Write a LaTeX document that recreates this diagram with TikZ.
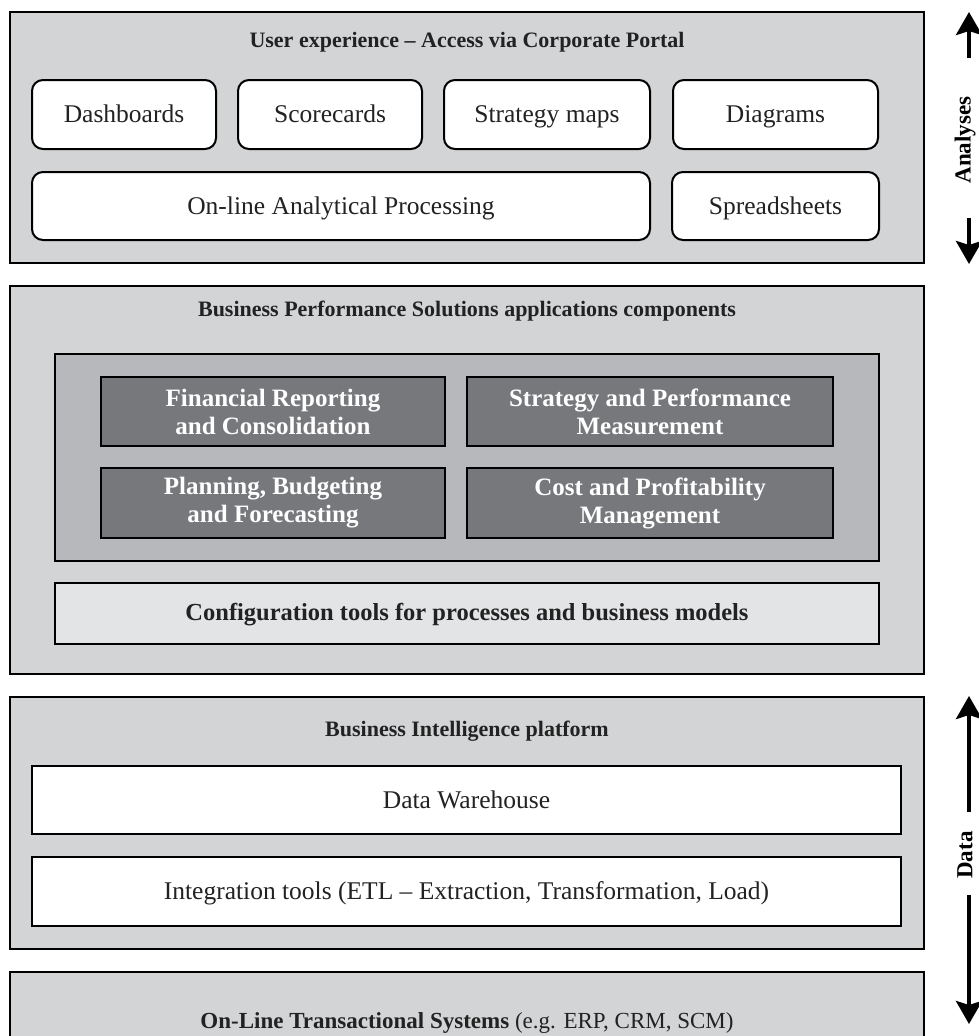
\documentclass[tikz,border=0pt]{standalone}
\usepackage{fontspec}
\setmainfont{Liberation Serif}
\usetikzlibrary{arrows.meta}
\definecolor{panelgray}{HTML}{D3D4D6}
\definecolor{innergray}{HTML}{B7B8BB}
\definecolor{darkgray}{HTML}{77787C}
\definecolor{configgray}{HTML}{E3E4E6}
\definecolor{txt}{HTML}{222222}
\begin{document}
\begin{tikzpicture}[x=1pt,y=-1pt,
  panel/.style={draw=black, line width=1.6pt, fill=panelgray, inner sep=0pt},
  paneltitle/.style={font=\fontsize{22}{26}\selectfont\bfseries, text=txt, inner sep=0pt,
    text height=15pt, text depth=5pt},
  roundbox/.style={draw=black, line width=2pt, fill=white, rounded corners=11pt, inner sep=0pt,
    font=\fontsize{25.5}{30}\selectfont, text=txt, text height=19pt, text depth=3pt},
  inner/.style={draw=black, line width=1.8pt, fill=innergray, inner sep=0pt},
  darkbox/.style={draw=black, line width=2pt, fill=darkgray, inner sep=0pt, align=center,
    font=\fontsize{25}{28}\selectfont\bfseries, text=white},
  configbox/.style={draw=black, line width=2pt, fill=configgray, inner sep=0pt,
    font=\fontsize{24.5}{28}\selectfont\bfseries, text=txt, text height=18pt, text depth=4pt},
  whitebox/.style={draw=black, line width=2pt, fill=white, inner sep=0pt,
    font=\fontsize{25.5}{30}\selectfont, text=txt, text height=19pt, text depth=3pt},
  sidelabel/.style={font=\fontsize{23}{26}\selectfont\bfseries, rotate=90, inner sep=0pt},
  bigarrow/.style={line width=4pt, -{Stealth[length=23pt,width=26pt,inset=4pt]}}
]
\useasboundingbox (0,0) rectangle (979,1036);
\clip (0,0) rectangle (979,1036);
\fill[white] (0,0) rectangle (979,1036);

% Panel 1
\node[panel, minimum width=914pt, minimum height=251pt] (p1) at (467,137.5) {};
\node[paneltitle] (p1t) at (467,42) {User experience -- Access via Corporate Portal};
\node[roundbox, minimum width=184pt, minimum height=69pt] (dash) at (124,114.5) {Dashboards};
\node[roundbox, minimum width=184pt, minimum height=69pt] (score) at (330,114.5) {Scorecards};
\node[roundbox, minimum width=206pt, minimum height=69pt] (smaps) at (547,114.5) {Strategy maps};
\node[roundbox, minimum width=205pt, minimum height=69pt] (diag) at (775.5,114.5) {Diagrams};
\node[roundbox, minimum width=618pt, minimum height=68pt] (olap) at (341,206) {On-line Analytical Processing};
\node[roundbox, minimum width=207pt, minimum height=68pt] (spread) at (775.5,206) {Spreadsheets};

% Panel 2
\node[panel, minimum width=914pt, minimum height=388pt] (p2) at (467,480) {};
\node[paneltitle] (p2t) at (467,311) {Business Performance Solutions applications components};
\node[inner, minimum width=824pt, minimum height=207pt] (inn) at (467,457.5) {};
\node[darkbox, minimum width=344pt, minimum height=69pt] (fin) at (273,411.5) {Financial Reporting\\and Consolidation};
\node[darkbox, minimum width=366pt, minimum height=69pt] (spm) at (650,411.5) {Strategy and Performance\\Measurement};
\node[darkbox, minimum width=344pt, minimum height=70pt] (pbf) at (273,503) {Planning, Budgeting\\and Forecasting};
\node[darkbox, minimum width=366pt, minimum height=70pt] (cpm) at (650,503) {Cost and Profitability\\Management};
\node[configbox, minimum width=824pt, minimum height=61pt] (conf) at (467,613.5) {Configuration tools for processes and business models};

% Panel 3
\node[panel, minimum width=914pt, minimum height=252pt] (p3) at (467,823) {};
\node[paneltitle] (p3t) at (467,731) {Business Intelligence platform};
\node[whitebox, minimum width=869pt, minimum height=68pt] (dw) at (466.5,800) {Data Warehouse};
\node[whitebox, minimum width=869pt, minimum height=69pt] (etl) at (466.5,891.5) {Integration tools (ETL -- Extraction, Transformation, Load)};

% Panel 4
\node[panel, minimum width=914pt, minimum height=100pt] (p4) at (467,1022) {};
\node[font=\fontsize{23}{26}\selectfont, text=txt, inner sep=0pt, text height=16pt, text depth=5pt] (p4t) at (467,1023)
  {\textbf{On-Line Transactional Systems} (e.g. ERP, CRM, SCM)};

% Side arrows
\node[sidelabel] (ana) at (965,140) {Analyses};
\coordinate (a1s) at (969,58);
\coordinate (a1t) at (969,12);
\coordinate (a2s) at (969,218);
\coordinate (a2t) at (969,264);
\draw[bigarrow] (a1s) -- (a1t);
\draw[bigarrow] (a2s) -- (a2t);

\node[sidelabel] (dat) at (965,855) {Data};
\coordinate (d1s) at (969,812);
\coordinate (d1t) at (969,696);
\coordinate (d2s) at (969,895);
\coordinate (d2t) at (969,1024);
\draw[bigarrow] (d1s) -- (d1t);
\draw[bigarrow] (d2s) -- (d2t);
\end{tikzpicture}
\end{document}
